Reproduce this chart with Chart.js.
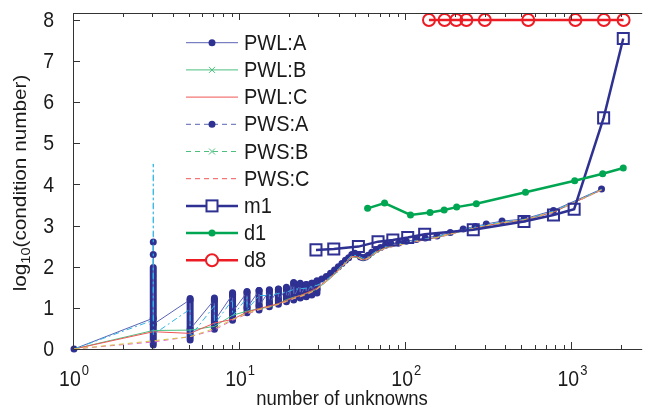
<!DOCTYPE html>
<html lang="en">
<head>
  <meta charset="UTF-8">
  <title>Condition number vs unknowns</title>
  <script src="https://cdn.jsdelivr.net/npm/chart.js@4"></script>
  <style>
    html, body { margin: 0; padding: 0; background: #fff; }
    #wrap { width: 652px; height: 410px; }
  </style>
</head>
<body>
<div id="wrap"><canvas id="chart" width="652" height="410"></canvas></div>
<script>
// ---- data ----
// dense vertical clusters of PWL:A values (drawn as thick bars)
const clusterX  = [3, 5, 7, 9, 11, 13, 15, 17, 19, 21, 23, 25, 27, 29];
const clusterLo = [0.1, 0.22, 0.48, 0.7, 0.88, 0.95, 1.03, 1.09, 1.15, 1.19, 1.24, 1.27, 1.31, 1.36];
const clusterHi = [1.98, 1.23, 1.24, 1.37, 1.4, 1.42, 1.44, 1.46, 1.5, 1.62, 1.6, 1.57, 1.6, 1.66];

const pwlAx = [1, 3, 3, 3, 3, 5, 5, 7, 7, 9, 9, 11, 11, 13, 13, 15, 15, 17, 17, 19, 19, 21, 21, 23, 23, 25, 25, 27, 27, 29, 29,
  31, 33, 35, 37, 39, 41, 43, 45, 47, 49, 51, 53, 55, 57, 59, 62, 66, 70, 75, 81, 90, 100, 115, 130, 153, 184, 220, 260, 303, 377, 511, 769, 1497];
const pwlAy = [0, 0.75, 2.6, 2.3, 0.6, 1.2, 0.48, 1.2, 0.68, 1.33, 0.9, 1.38, 1.0, 1.42, 1.05, 1.42, 1.12, 1.45, 1.18, 1.48, 1.22, 1.6, 1.26, 1.58, 1.3, 1.56, 1.33, 1.6, 1.38, 1.64, 1.45,
  1.7, 1.76, 1.84, 1.92, 2.0, 2.08, 2.16, 2.22, 2.3, 2.33, 2.3, 2.24, 2.22, 2.24, 2.28, 2.35, 2.42, 2.47, 2.52, 2.56, 2.58, 2.62, 2.66, 2.7, 2.75, 2.83, 2.92, 2.98, 3.04, 3.11, 3.16, 3.37, 3.89];

// shared x positions for the smooth series
const curveX = [1, 3, 5, 7, 9, 11, 13, 15, 17, 19, 21, 23, 25, 27, 29, 31, 35, 39, 43, 47, 51, 55, 59, 66, 75, 90, 115, 153, 220, 303, 377, 511, 769, 1497];
const pwlBy = [0, 0.45, 0.46, 0.55, 0.82, 0.92, 0.98, 1.02, 1.1, 1.2, 1.26, 1.3, 1.35, 1.4, 1.46, 1.55, 1.72, 1.9, 2.08, 2.24, 2.22, 2.16, 2.2, 2.34, 2.46, 2.53, 2.62, 2.71, 2.87, 3.0, 3.07, 3.13, 3.33, 3.87];
const pwlCy = [0, 0.42, 0.38, 0.63, 0.72, 0.9, 0.98, 1.05, 1.1, 1.18, 1.25, 1.3, 1.36, 1.42, 1.48, 1.58, 1.75, 1.92, 2.1, 2.25, 2.24, 2.17, 2.22, 2.36, 2.47, 2.54, 2.62, 2.72, 2.88, 3.0, 3.07, 3.14, 3.33, 3.87];
const pwsBy = [0, 0.17, 0.3, 0.46, 0.7, 0.85, 0.95, 1.02, 1.08, 1.15, 1.22, 1.27, 1.32, 1.38, 1.45, 1.55, 1.72, 1.9, 2.08, 2.23, 2.22, 2.15, 2.2, 2.34, 2.45, 2.52, 2.61, 2.7, 2.87, 2.99, 3.06, 3.13, 3.32, 3.86];
const pwsCy = [0, 0.2, 0.3, 0.5, 0.72, 0.87, 0.96, 1.03, 1.09, 1.16, 1.23, 1.28, 1.33, 1.39, 1.46, 1.56, 1.73, 1.91, 2.09, 2.24, 2.23, 2.16, 2.21, 2.35, 2.46, 2.53, 2.62, 2.71, 2.88, 3.0, 3.07, 3.14, 3.33, 3.87];

const pwsAx = [1, 3, 3, 3, 5, 5, 7, 7, 9, 9, 11, 11, 13, 15, 17, 19, 21, 25, 29, 31, 35, 39, 43, 47, 51, 55, 59, 66, 75, 90, 115, 153, 220, 303, 377, 511, 769, 1497];
const pwsAy = [0, 0.7, 4.5, 0.35, 0.97, 0.3, 1.05, 0.6, 1.2, 0.8, 1.25, 0.95, 1.3, 1.3, 1.35, 1.38, 1.45, 1.48, 1.55, 1.6, 1.76, 1.95, 2.12, 2.28, 2.27, 2.2, 2.24, 2.38, 2.49, 2.55, 2.64, 2.73, 2.9, 3.02, 3.09, 3.15, 3.35, 3.88];

const m1x = [28.6, 36.6, 51.5, 67.6, 83, 102, 129, 253, 511, 769, 1024, 1541, 2023];
const m1y = [2.41, 2.43, 2.49, 2.61, 2.65, 2.71, 2.79, 2.9, 3.1, 3.26, 3.4, 5.62, 7.55];

const d1x = [58.5, 74, 106, 139, 169, 201, 264, 522, 1032, 1521, 2023];
const d1y = [3.42, 3.55, 3.26, 3.32, 3.38, 3.45, 3.53, 3.81, 4.09, 4.26, 4.4];

const d8x = [137, 170, 200, 230, 297, 542, 1042, 1546, 2032];
const d8y = [8.0, 8.0, 8.0, 8.0, 8.0, 8.0, 8.0, 8.0, 8.0];

const xTickExp = [0, 1, 2, 3];
const yTicks = [0, 1, 2, 3, 4, 5, 6, 7, 8];

// ---- colours ----
const NAVY = '#2e3192';
const GREEN = '#00a651';
const RED = '#ed1c24';
const THIN_BLUE = '#5a63b4';
const THIN_GREEN = '#4cbf7f';
const THIN_RED = '#f05555';
const CYAN = '#33b5e5';
const MAGENTA = '#e070c0';
const YELLOW = '#d9c040';

const FONT = '"Liberation Sans", Arial, Helvetica, sans-serif';
const SY = 1.12; // the reference text is a bit taller than wide

function pts(xs, ys) {
  return xs.map((x, i) => ({ x: x, y: ys[i] }));
}

function clusterPts() {
  const out = [];
  clusterX.forEach((x, i) => {
    out.push({ x: x, y: clusterLo[i] }, { x: x, y: clusterHi[i] }, { x: x, y: null });
  });
  return out;
}

function thin(label, data, color, dash, order) {
  return {
    label: label, data: data, showLine: true, borderColor: color, borderWidth: 1,
    borderDash: dash, pointRadius: 0, order: order, clip: false
  };
}

function stretchText(ctx, s, x, y, size, align, base) {
  ctx.save();
  ctx.translate(x, y);
  ctx.scale(1, SY);
  ctx.font = size + 'px ' + FONT;
  ctx.textAlign = align;
  ctx.textBaseline = base;
  ctx.fillStyle = '#1a1a1a';
  ctx.fillText(s, 0, 0);
  ctx.restore();
}

function drawMarker(ctx, kind, x, y, color) {
  ctx.save();
  ctx.setLineDash([]);
  ctx.strokeStyle = color;
  ctx.fillStyle = color;
  if (kind === 'dot') {
    ctx.beginPath(); ctx.arc(x, y, 3.5, 0, Math.PI * 2); ctx.fill();
  } else if (kind === 'x') {
    ctx.lineWidth = 1;
    ctx.beginPath();
    ctx.moveTo(x - 3, y - 3); ctx.lineTo(x + 3, y + 3);
    ctx.moveTo(x - 3, y + 3); ctx.lineTo(x + 3, y - 3);
    ctx.stroke();
  } else if (kind === 'square') {
    ctx.lineWidth = 2;
    ctx.fillStyle = '#fff';
    ctx.fillRect(x - 5.5, y - 5.5, 11, 11);
    ctx.strokeRect(x - 5.5, y - 5.5, 11, 11);
  } else if (kind === 'circle') {
    ctx.lineWidth = 2;
    ctx.fillStyle = '#fff';
    ctx.beginPath(); ctx.arc(x, y, 6, 0, Math.PI * 2); ctx.fill(); ctx.stroke();
  } else if (kind === 'smalldot') {
    ctx.beginPath(); ctx.arc(x, y, 3.5, 0, Math.PI * 2); ctx.fill();
  }
  ctx.restore();
}

const legendItems = [
  { label: 'PWL:A', color: THIN_BLUE, width: 1, dash: [], marker: 'dot', mcolor: NAVY },
  { label: 'PWL:B', color: THIN_GREEN, width: 1, dash: [], marker: 'x', mcolor: THIN_GREEN },
  { label: 'PWL:C', color: THIN_RED, width: 1, dash: [], marker: null },
  { label: 'PWS:A', color: THIN_BLUE, width: 1, dash: [5, 4], marker: 'dot', mcolor: NAVY },
  { label: 'PWS:B', color: THIN_GREEN, width: 1, dash: [5, 4], marker: 'x', mcolor: THIN_GREEN },
  { label: 'PWS:C', color: THIN_RED, width: 1, dash: [5, 4], marker: null },
  { label: 'm1', color: NAVY, width: 2.5, dash: [], marker: 'square', mcolor: NAVY },
  { label: 'd1', color: GREEN, width: 2.5, dash: [], marker: 'smalldot', mcolor: GREEN },
  { label: 'd8', color: RED, width: 2.5, dash: [], marker: 'circle', mcolor: RED }
];

// axes box, inside ticks, tick labels, titles and legend
const framePlugin = {
  id: 'frame',
  afterDraw(chart) {
    const ctx = chart.ctx;
    const a = chart.chartArea;
    const xs = chart.scales.x;
    const ys = chart.scales.y;

    ctx.save();
    ctx.strokeStyle = '#333';
    ctx.lineWidth = 1;
    ctx.setLineDash([]);
    ctx.beginPath();
    ctx.moveTo(a.left - 0.5, a.top + 0.5); ctx.lineTo(a.right, a.top + 0.5);
    ctx.moveTo(a.left - 0.5, a.top); ctx.lineTo(a.left - 0.5, a.bottom + 0.5);
    ctx.moveTo(a.left - 0.5, a.bottom + 0.5); ctx.lineTo(a.right, a.bottom + 0.5);
    // x ticks, major and minor, bottom and top
    for (let e = 0; e <= 3; e++) {
      for (let m = 1; m <= 9; m++) {
        const v = m * Math.pow(10, e);
        if (v > xs.max) break;
        const px = Math.round(xs.getPixelForValue(v)) - 0.5;
        const len = m === 1 ? 7 : 4;
        if (m === 1 && e === 0) continue;
        ctx.moveTo(px, a.bottom); ctx.lineTo(px, a.bottom - len);
        ctx.moveTo(px, a.top); ctx.lineTo(px, a.top + len);
      }
    }
    // y ticks
    yTicks.forEach(v => {
      const py = Math.round(ys.getPixelForValue(v)) + 0.5;
      ctx.moveTo(a.left, py); ctx.lineTo(a.left + 6, py);
    });
    ctx.stroke();
    ctx.restore();

    // y tick labels
    yTicks.forEach(v => {
      stretchText(ctx, String(v), a.left - 20, ys.getPixelForValue(v) + 1, 19.5, 'right', 'middle');
    });

    // x tick labels 10^k
    xTickExp.forEach(k => {
      const px = xs.getPixelForValue(Math.pow(10, k));
      ctx.font = '19.5px ' + FONT;
      const w1 = ctx.measureText('10').width;
      ctx.font = '13px ' + FONT;
      const w2 = ctx.measureText(String(k)).width;
      const start = px - (w1 + w2 + 1) / 2;
      stretchText(ctx, '10', start, 386, 19.5, 'left', 'alphabetic');
      stretchText(ctx, String(k), start + w1 + 1, 375, 13, 'left', 'alphabetic');
    });

    // x axis title
    stretchText(ctx, 'number of unknowns', (a.left + 610) / 2, 405, 18.5, 'center', 'alphabetic');

    // y axis title with subscript
    ctx.save();
    ctx.translate(26, 183);
    ctx.scale(1, SY);
    ctx.rotate(-Math.PI / 2);
    ctx.fillStyle = '#1a1a1a';
    ctx.textBaseline = 'alphabetic';
    ctx.textAlign = 'left';
    const big = '18.5px ' + FONT, small = '13px ' + FONT;
    ctx.font = big; const wLog = ctx.measureText('log').width;
    const wRest = ctx.measureText('(condition number)').width;
    ctx.font = small; const wSub = ctx.measureText('10').width;
    let x0 = -(wLog + wSub + wRest) / 2;
    ctx.font = big; ctx.fillText('log', x0, 0);
    ctx.font = small; ctx.fillText('10', x0 + wLog, 4);
    ctx.font = big; ctx.fillText('(condition number)', x0 + wLog + wSub, 0);
    ctx.restore();

    // legend
    legendItems.forEach((it, i) => {
      const y = 42.7 + 27.2 * i;
      ctx.save();
      ctx.strokeStyle = it.color;
      ctx.lineWidth = it.width;
      ctx.setLineDash(it.dash);
      ctx.beginPath(); ctx.moveTo(186, y); ctx.lineTo(238, y); ctx.stroke();
      ctx.restore();
      if (it.marker) drawMarker(ctx, it.marker, 212, y, it.mcolor);
      stretchText(ctx, it.label, 244, y + 1, 20, 'left', 'middle');
    });
  }
};

const datasets = [
  { label: 'd8', data: pts(d8x, d8y), showLine: true, borderColor: RED, borderWidth: 2.5,
    pointStyle: 'circle', pointRadius: 6, pointBorderWidth: 2, pointBackgroundColor: 'rgba(0,0,0,0)',
    pointBorderColor: RED, order: 1, clip: false },
  { label: 'd1', data: pts(d1x, d1y), showLine: true, borderColor: GREEN, borderWidth: 2.5,
    pointRadius: 3.5, pointBackgroundColor: GREEN, pointBorderColor: GREEN, pointBorderWidth: 0, order: 2, clip: false },
  { label: 'm1', data: pts(m1x, m1y), showLine: true, borderColor: NAVY, borderWidth: 2.5,
    pointStyle: 'rect', pointRadius: 7.8, pointBorderWidth: 2, pointBackgroundColor: 'rgba(0,0,0,0)',
    pointBorderColor: NAVY, order: 3, clip: false },
  thin('PWS:C', pts(curveX, pwsCy), YELLOW, [5, 4], 4),
  thin('PWS:B', pts(curveX, pwsBy), MAGENTA, [5, 4], 5),
  thin('PWS:A', pts(pwsAx, pwsAy), CYAN, [6, 3, 2, 3], 6),
  thin('PWL:C', pts(curveX, pwlCy), THIN_RED, [], 7),
  thin('PWL:B', pts(curveX, pwlBy), THIN_GREEN, [], 8),
  { label: 'PWL:A', data: pts(pwlAx, pwlAy), showLine: true, borderColor: THIN_BLUE, borderWidth: 1,
    pointRadius: 3.5, pointBackgroundColor: NAVY, pointBorderColor: NAVY, pointBorderWidth: 0, order: 9, clip: false },
  { label: 'clusters', data: clusterPts(), showLine: true, spanGaps: false, borderColor: NAVY, borderWidth: 7,
    borderCapStyle: 'round', pointRadius: 0, order: 10, clip: false }
];

new Chart(document.getElementById('chart'), {
  type: 'scatter',
  data: { datasets: datasets },
  options: {
    responsive: false,
    animation: false,
    devicePixelRatio: 1,
    layout: { padding: { left: 74, right: 0, top: 13, bottom: 61 } },
    plugins: { legend: { display: false }, tooltip: { enabled: false } },
    scales: {
      x: { type: 'logarithmic', min: 1, max: 2630, display: false },
      y: { type: 'linear', min: 0, max: 8.17, display: false }
    }
  },
  plugins: [framePlugin]
});
</script>
</body>
</html>
